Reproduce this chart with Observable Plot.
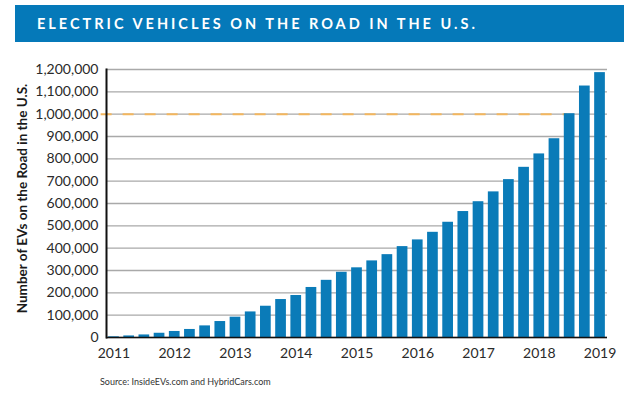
<!DOCTYPE html>
<html>
<head>
<meta charset="utf-8">
<script src="https://cdn.jsdelivr.net/npm/d3@7"></script>
<script src="https://cdn.jsdelivr.net/npm/@observablehq/plot@0.6"></script>
<style>
  html, body { margin: 0; padding: 0; background: #fff; }
  #page { position: relative; width: 640px; height: 394px; overflow: hidden; font-family: Lato, "Open Sans", sans-serif; }
  #title { position: absolute; left: 15px; top: 5px; width: 609px; height: 37px; background: #0579b9;
           color: #fff; font-weight: 700; font-size: 14.5px; letter-spacing: 3px; line-height: 37px;
           padding-left: 22px; box-sizing: border-box; white-space: nowrap; }
  #chart { position: absolute; left: 0; top: 48px; }
  #source { position: absolute; left: 100px; top: 376px; font-size: 9px; color: #333; }
</style>
</head>
<body>
<div id="page">
  <div id="title">ELECTRIC VEHICLES ON THE ROAD IN THE U.S.</div>
  <div id="chart"></div>
  <div id="source">Source: InsideEVs.com and HybridCars.com</div>
</div>
<script>
const periods = ["2011 Q1","2011 Q2","2011 Q3","2011 Q4","2012 Q1","2012 Q2","2012 Q3","2012 Q4",
  "2013 Q1","2013 Q2","2013 Q3","2013 Q4","2014 Q1","2014 Q2","2014 Q3","2014 Q4",
  "2015 Q1","2015 Q2","2015 Q3","2015 Q4","2016 Q1","2016 Q2","2016 Q3","2016 Q4",
  "2017 Q1","2017 Q2","2017 Q3","2017 Q4","2018 Q1","2018 Q2","2018 Q3","2018 Q4","2019 Q1"];
const evCounts = [3000, 7000, 11500, 19000, 27000, 36000, 52000, 71500,
  91000, 114500, 140000, 170000, 188000, 224000, 256000, 292000,
  312000, 343000, 371000, 407000, 437000, 471000, 516000, 564000,
  608000, 652000, 707000, 762000, 822000, 890000, 1002000, 1126000, 1186000];
const yearTicks = ["2011 Q1","2012 Q1","2013 Q1","2014 Q1","2015 Q1","2016 Q1","2017 Q1","2018 Q1","2019 Q1"];
const yearLabels = ["2011","2012","2013","2014","2015","2016","2017","2018","2019"];
const yTicks = [0,100000,200000,300000,400000,500000,600000,700000,800000,900000,1000000,1100000,1200000];
const milestone = [1000000];
const milestoneEnd = "2018 Q3";
const yLabel = "Number of EVs on the Road in the U.S.";

const table = periods.map((p, i) => ({period: p, count: evCounts[i]}));

const chart = Plot.plot({
  width: 640,
  height: 322,
  marginTop: 21,
  marginBottom: 33,
  marginLeft: 106,
  marginRight: 33,
  style: {fontFamily: "Lato, 'Open Sans', sans-serif", fontSize: "14px", color: "#2a2a2a", background: "white", overflow: "visible"},
  x: {type: "band", domain: periods, paddingInner: 0.295, paddingOuter: 0.14, round: false},
  y: {domain: [0, 1200000]},
  marks: [
    Plot.gridY(yTicks, {stroke: "#a9a9a9", strokeOpacity: 1, strokeWidth: 1.3}),
    Plot.ruleY(milestone, {x1: () => periods[0], x2: () => milestoneEnd, dx: -7.5, stroke: "#f3b65e", strokeWidth: 2, strokeDasharray: "11,11"}),
    Plot.barY(table, {x: "period", y: "count", fill: "#0a7bb8"}),
    Plot.ruleY([0], {stroke: "#111", strokeWidth: 1.6}),
    Plot.frame({anchor: "left", stroke: "#111", strokeWidth: 2}),
    Plot.axisY(yTicks, {tickSize: 0, tickPadding: 8, tickFormat: d3.format(","), label: null}),
    Plot.axisX(yearTicks, {tickSize: 0, tickPadding: 11, tickFormat: d => yearLabels[yearTicks.indexOf(d)], label: null}),
    Plot.text([yLabel], {frameAnchor: "left", dx: -84, dy: -5, rotate: -90, textAnchor: "middle", lineAnchor: "middle", fontWeight: "bold", fontSize: 13.5, fill: "#1a1a1a"})
  ]
});
document.getElementById("chart").appendChild(chart);
</script>
</body>
</html>
